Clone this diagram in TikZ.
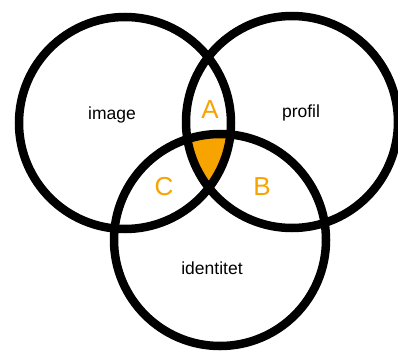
\documentclass[tikz,border=0pt]{standalone}
\usepackage{fontspec}
\setmainfont{Liberation Sans}
\definecolor{venn}{RGB}{247,163,0}
\begin{document}
\begin{tikzpicture}[x=1pt,y=-1pt,
  ring/.style={draw=black,line width=8.5pt},
  setlabel/.style={font=\fontsize{17.5}{17.5}\selectfont,text=black},
  zone/.style={font=\fontsize{26}{26}\selectfont,text=venn}]
\useasboundingbox[fill=white] (0,0) rectangle (398,350);
\coordinate (cl) at (125,123);
\coordinate (cr) at (292,122);
\coordinate (cb) at (220,240);
% triple overlap
\begin{scope}
  \clip (cl) circle[radius=106];
  \clip (cr) circle[radius=106];
  \fill[venn] (cb) circle[radius=106];
\end{scope}
\draw[ring] (cl) circle[radius=106];
\draw[ring] (cr) circle[radius=106];
\draw[ring] (cb) circle[radius=106];
\node[setlabel] (image) at (112,115) {image};
\node[setlabel] (profil) at (301,113) {profil};
\node[setlabel] (identitet) at (212,268) {identitet};
\node[zone] (a) at (210,110) {A};
\node[zone] (b) at (262,187) {B};
\node[zone] (c) at (164,187) {C};
\end{tikzpicture}
\end{document}
